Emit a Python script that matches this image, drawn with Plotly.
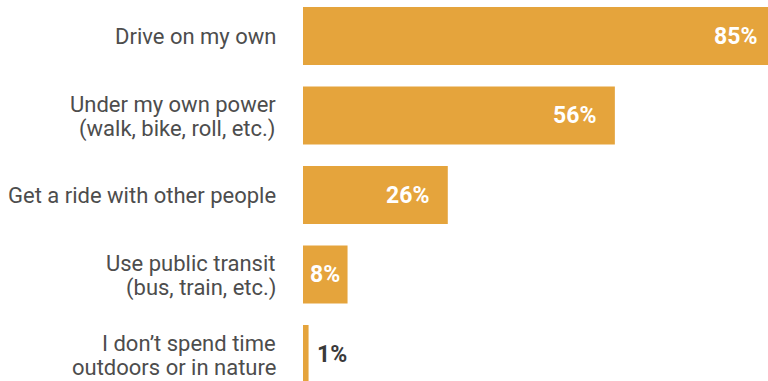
import plotly.graph_objects as go

categories = [
    "Drive on my own",
    "Under my own power<br>(walk, bike, roll, etc.)",
    "Get a ride with other people",
    "Use public transit<br>(bus, train, etc.)",
    "I don’t spend time<br>outdoors or in nature",
]
values = [85, 56, 26, 8, 1]
value_labels = ["85%", "56%", "26%", "8%", "1%"]

BAR_COLOR = "#E5A43C"
LABEL_COLOR = "#4D4D4D"
FONT = "Roboto, Liberation Sans, Arial, sans-serif"
W, H = 768, 381
LEFT = 303
XMAX = 83.5
SCALE = (W - LEFT) / XMAX
PITCH = 79.5
FIRST_CENTER = 36

fig = go.Figure(
    go.Bar(
        y=categories,
        x=values,
        orientation="h",
        marker=dict(color=BAR_COLOR, line=dict(width=0)),
        hoverinfo="skip",
    )
)

annotations = []
for i, (cat, v, lab) in enumerate(zip(categories, values, value_labels)):
    lines = cat.split("<br>")
    n = len(lines)
    for j, line in enumerate(lines):
        annotations.append(dict(
            x=0, y=cat, xref="x", yref="y", text=line, showarrow=False,
            xanchor="right", yanchor="middle", xshift=-25,
            yshift=(n - 1) * 12 - j * 24 - (1 if n > 1 else 0),
            font=dict(family=FONT, size=22, color=LABEL_COLOR),
        ))
    px_len = v * SCALE
    if px_len >= 80:
        xv = min(v, XMAX)
        annotations.append(dict(
            x=xv, y=cat, xref="x", yref="y", text="<b>%s</b>" % lab,
            showarrow=False, xanchor="right", yanchor="middle",
            xshift=-17 + (v - xv) * SCALE,
            font=dict(family=FONT, size=23, color="white"),
        ))
    elif px_len >= 30:
        annotations.append(dict(
            x=v / 2, y=cat, xref="x", yref="y", text="<b>%s</b>" % lab,
            showarrow=False, xanchor="center", yanchor="middle",
            font=dict(family=FONT, size=23, color="white"),
        ))
    else:
        annotations.append(dict(
            x=v, y=cat, xref="x", yref="y", text="<b>%s</b>" % lab,
            showarrow=False, xanchor="left", yanchor="middle", xshift=6,
            font=dict(family=FONT, size=23, color="#3A3A3A"),
        ))

top = -FIRST_CENTER / PITCH
bottom = (H - FIRST_CENTER) / PITCH

fig.update_layout(
    width=W, height=H,
    margin=dict(l=LEFT, r=0, t=0, b=0),
    paper_bgcolor="white", plot_bgcolor="white",
    bargap=1 - 58 / PITCH,
    showlegend=False,
    xaxis=dict(range=[0, XMAX], visible=False, fixedrange=True),
    yaxis=dict(range=[bottom, top], showticklabels=False, showgrid=False,
               zeroline=False, showline=False, ticks="", fixedrange=True,
               categoryorder="array", categoryarray=categories),
    annotations=annotations,
)

fig.write_html(
    "out.html",
    config={"displayModeBar": False},
    post_script="document.body.style.margin='0';document.body.style.overflow='hidden';",
)
